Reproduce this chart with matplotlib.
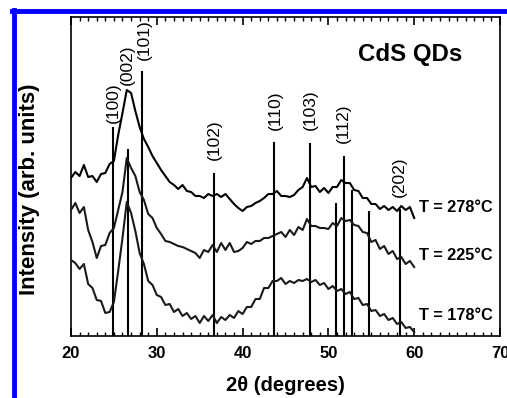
import numpy as np
import matplotlib
matplotlib.use("Agg")
import matplotlib.pyplot as plt
from matplotlib.ticker import MultipleLocator
from matplotlib.lines import Line2D

plt.rcParams['font.family'] = ['Liberation Sans', 'DejaVu Sans']

# 2-theta sampling grid (degrees)
two_theta = np.arange(20.0, 60.01, 0.5)

# Intensities (arb. units, offset stacked as in the figure)
I_278 = [158, 164, 160, 171, 159, 160, 154, 162, 163, 172,
         175, 201, 223, 246, 243, 225, 209, 197, 189, 180,
         173, 166, 160, 154, 151, 147, 151, 145, 144, 140,
         140, 138, 142, 140, 142, 139, 142, 137, 132, 128,
         125, 129, 130, 133, 135, 138, 142, 142, 145, 140,
         140, 139, 141, 146, 149, 158, 149, 150, 144, 148,
         143, 149, 149, 156, 153, 153, 146, 145, 138, 138,
         132, 132, 127, 130, 126, 129, 125, 130, 126, 129,
         118]
I_225 = [126, 133, 123, 129, 106, 94, 78, 90, 91, 103,
         108, 126, 144, 178, 168, 160, 144, 136, 122, 118,
         108, 102, 95, 94, 92, 90, 89, 87, 85, 83,
         78, 86, 84, 91, 84, 93, 86, 93, 84, 85,
         88, 94, 92, 95, 95, 98, 98, 100, 102, 104,
         99, 106, 101, 109, 106, 117, 110, 110, 108, 108,
         107, 113, 110, 118, 115, 116, 111, 110, 104, 103,
         94, 96, 87, 90, 82, 85, 77, 79, 72, 75,
         69]
I_178 = [76, 73, 67, 72, 52, 48, 36, 35, 23, 24,
         34, 65, 98, 134, 123, 105, 83, 72, 55, 51,
         41, 39, 31, 32, 24, 27, 20, 23, 17, 20,
         13, 20, 15, 21, 13, 19, 16, 21, 18, 25,
         22, 29, 29, 37, 37, 48, 48, 55, 55, 58,
         52, 55, 53, 56, 55, 57, 54, 56, 51, 53,
         47, 50, 45, 47, 42, 44, 37, 38, 31, 32,
         25, 26, 20, 22, 16, 18, 12, 14, 8, 9,
         4]

# Reference (JCPDS) stick lines: position and height
ref_pos = [24.9, 26.6, 28.3, 36.7, 43.7, 47.9, 50.9, 51.8, 52.8, 54.7, 58.3]
ref_top = [208, 186, 264, 162, 193, 192, 132, 179, 145, 124, 126]

# hkl labels: position and baseline height
hkl_text = ['(100)', '(002)', '(101)', '(102)', '(110)', '(103)', '(112)', '(202)']
hkl_pos = [24.9, 26.6, 28.5, 36.7, 43.8, 47.9, 51.8, 58.3]
hkl_y = [213, 251, 276, 176, 206, 206, 193, 139]

temp_labels = ['T = 278°C', 'T = 225°C', 'T = 178°C']
temp_y = [129, 80, 20]

fig = plt.figure(figsize=(5.07, 3.98), dpi=100)
ax = fig.add_axes([71/507, 62/398, 429/507, 319/398])

for x, t in zip(ref_pos, ref_top):
    ax.plot([x, x], [0, t], color='black', lw=1.5, zorder=2)

ax.plot(two_theta, I_278, color='black', lw=1.5, zorder=3)
ax.plot(two_theta, I_225, color='#1a1a1a', lw=1.5, zorder=3)
ax.plot(two_theta, I_178, color='#1a1a1a', lw=1.5, zorder=3)

for s, x, y in zip(hkl_text, hkl_pos, hkl_y):
    ax.text(x, y, s, rotation=90, ha='center', va='bottom', fontsize=12.5)

for s, y in zip(temp_labels, temp_y):
    ax.text(60.6, y, s, ha='left', va='center', fontsize=11.7, fontweight='bold')

ax.text(53.4, 281, 'CdS QDs', ha='left', va='center', fontsize=17.3, fontweight='bold')

ax.set_xlim(20, 70)
ax.set_ylim(0, 319)
ax.set_yticks([])
ax.xaxis.set_major_locator(MultipleLocator(10))
ax.xaxis.set_minor_locator(MultipleLocator(1))
ax.tick_params(axis='x', which='both', direction='in', top=True, bottom=True)
ax.tick_params(axis='x', which='major', length=6, width=1.2, labelsize=12, pad=7)
ax.tick_params(axis='x', which='minor', length=3, width=1)
for lab in ax.get_xticklabels():
    lab.set_fontweight('bold')
for sp in ax.spines.values():
    sp.set_linewidth(1.2)

ax.set_xlabel('2θ (degrees)', fontsize=14.5, fontweight='bold', labelpad=11)
ax.set_ylabel('Intensity (arb. units)', fontsize=16, fontweight='bold', labelpad=22)
ax.yaxis.label.set_position((0, 0.46))

# blue frame from the source page
fig.add_artist(Line2D([14/507, 14/507], [0, 1 - 10/398], color='#0000ff', lw=3.5, transform=fig.transFigure))
fig.add_artist(Line2D([12/507, 1], [1 - 10.5/398, 1 - 10.5/398], color='#0000ff', lw=3.5, transform=fig.transFigure))

fig.savefig('out.png', dpi=100)
